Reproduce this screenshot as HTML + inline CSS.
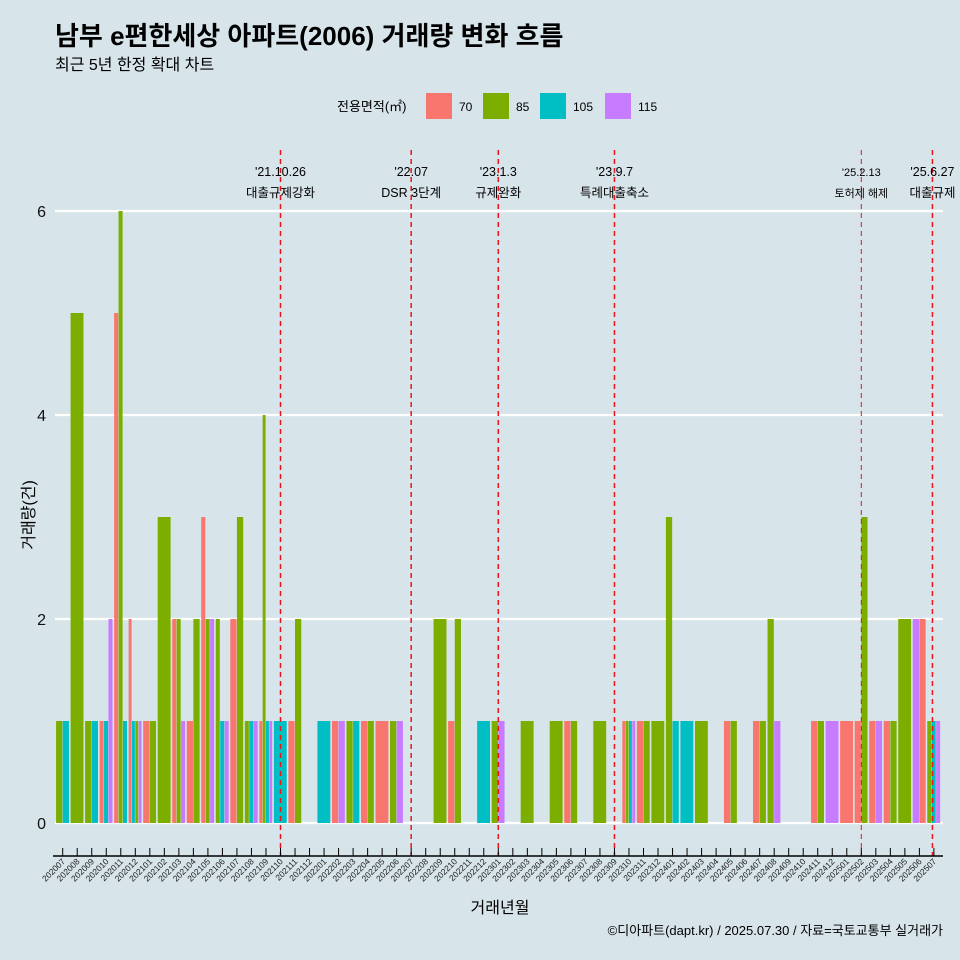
<!DOCTYPE html>
<html><head><meta charset="utf-8">
<style>
body{margin:0;background:#d7e4ea;}
svg{display:block;font-family:"Liberation Sans","Noto Sans CJK KR",sans-serif;}
</style></head>
<body>
<svg id="chart" width="960" height="960" viewBox="0 0 960 960">
<rect x="0" y="0" width="960" height="960" fill="#d7e4ea"/>
<text x="55" y="45" font-size="26" font-weight="bold" fill="#000">남부 e편한세상 아파트(2006) 거래량 변화 흐름</text>
<text x="55" y="70" font-size="16" fill="#000">최근 5년 한정 확대 차트</text>
<g>
<text x="337" y="111" font-size="13" fill="#000">전용면적(㎡)</text>
<g><rect x="426" y="93" width="26" height="26" fill="#f8766d"/><text x="459" y="111" font-size="12">70</text></g>
<g><rect x="483" y="93" width="26" height="26" fill="#7cae00"/><text x="516" y="111" font-size="12">85</text></g>
<g><rect x="540" y="93" width="26" height="26" fill="#00bfc4"/><text x="573" y="111" font-size="12">105</text></g>
<g><rect x="605" y="93" width="26" height="26" fill="#c77cff"/><text x="638" y="111" font-size="12">115</text></g>
</g>
<g id="grid"></g>
<g id="bars"></g>
<g id="events"></g>
<g id="xaxis"></g>
<g id="yaxis"></g>
<text x="500" y="913" font-size="16" text-anchor="middle">거래년월</text>
<text transform="translate(34,515) rotate(-90)" font-size="16" text-anchor="middle">거래량(건)</text>
<text x="943" y="935" font-size="13" text-anchor="end">©디아파트(dapt.kr) / 2025.07.30 / 자료=국토교통부 실거래가</text>
</svg>
<script>
const months = [];
for (let y = 2020, m = 7; y < 2025 || (y === 2025 && m <= 7); ) { months.push(String(y) + String(m).padStart(2, '0')); m++; if (m > 12) { m = 1; y++; } }
const yTicks = [0, 2, 4, 6];
const areaColors = {"70":"#f8766d","85":"#7cae00","105":"#00bfc4","115":"#c77cff"};
// [month, area, count]
const deals = [
["202007","85",1],["202007","105",1],
["202008","85",5],
["202009","85",1],["202009","105",1],
["202010","70",1],["202010","105",1],["202010","115",2],
["202011","70",5],["202011","85",6],["202011","105",1],
["202012","70",2],["202012","105",1],["202012","85",1],["202012","115",1],
["202101","70",1],["202101","85",1],
["202102","85",3],
["202103","70",2],["202103","85",2],["202103","115",1],
["202104","70",1],["202104","85",2],
["202105","70",3],["202105","85",2],["202105","115",2],
["202106","85",2],["202106","105",1],["202106","115",1],
["202107","70",2],["202107","85",3],
["202108","85",1],["202108","105",1],["202108","115",1],
["202109","70",1],["202109","85",4],["202109","105",1],["202109","115",1],
["202110","105",1],
["202111","70",1],["202111","85",2],
["202201","105",1],
["202202","70",1],["202202","115",1],
["202203","85",1],["202203","105",1],
["202204","70",1],["202204","85",1],
["202205","70",1],
["202206","85",1],["202206","115",1],
["202209","85",2],
["202210","70",1],["202210","85",2],
["202212","105",1],
["202301","85",1],["202301","115",1],
["202303","85",1],
["202305","85",1],
["202306","70",1],["202306","85",1],
["202308","85",1],
["202310","70",1],["202310","85",1],["202310","105",1],["202310","115",1],
["202311","70",1],["202311","85",1],
["202312","85",1],
["202401","85",3],["202401","105",1],
["202402","105",1],
["202403","85",1],
["202405","70",1],["202405","85",1],
["202407","70",1],["202407","85",1],
["202408","85",2],["202408","115",1],
["202411","70",1],["202411","85",1],
["202412","115",1],
["202501","70",1],
["202502","70",1],["202502","85",3],
["202503","70",1],["202503","115",1],
["202504","70",1],["202504","85",1],
["202505","85",2],
["202506","115",2],["202506","70",2],
["202507","85",1],["202507","105",1],["202507","115",1]
];
const eventMonths = ["202110","202207","202301","202309","202502","202506"];
const eventOffsets = [0, 0, 0, 0, 0, 0.9];
const eventDates = ["'21.10.26","'22.07","'23.1.3","'23.9.7","'25.2.13","'25.6.27"];
const eventNames = ["대출규제강화","DSR 3단계","규제완화","특례대출축소","토허제 해제","대출규제"];

const NS = "http://www.w3.org/2000/svg";
const x0 = 62.7, step = 14.52, y0 = 823, yUnit = 102;
const xPos = i => x0 + i * step;
const yPos = v => y0 - v * yUnit;
function mk(tag, attrs, parent) { const e = document.createElementNS(NS, tag); for (const k in attrs) e.setAttribute(k, attrs[k]); parent.appendChild(e); return e; }

const grid = document.getElementById('grid');
const yaxis = document.getElementById('yaxis');
yTicks.forEach(t => {
  const l = mk('line', {x1: 55, x2: 943, y1: yPos(t), y2: yPos(t), stroke: '#ffffff', 'stroke-width': 2.2}, grid);
  
  
  const tx = mk('text', {x: 46, y: yPos(t) + 6, 'font-size': 16, 'text-anchor': 'end', fill: '#111'}, yaxis);
  tx.textContent = t;
  
  
});

const bars = document.getElementById('bars');
const groupW = 13.3;
months.forEach((m, i) => {
  const segs = deals.filter(d => d[0] === m);
  const n = segs.length;
  segs.forEach((d, j) => {
    const w = groupW / n;
    const x = xPos(i) - groupW / 2 + j * w;
    const r = mk('rect', {x: x, y: yPos(d[2]), width: Math.max(w - 0.4, 0.5), height: yPos(0) - yPos(d[2]), fill: areaColors[d[1]]}, bars);
    
    
  });
});

const xaxis = document.getElementById('xaxis');
const ax = mk('line', {x1: 53, x2: 943, y1: 856, y2: 856, stroke: '#000', 'stroke-width': 1.5}, xaxis);


months.forEach((m, i) => {
  const t = mk('line', {x1: xPos(i), x2: xPos(i), y1: 848, y2: 856, stroke: '#000', 'stroke-width': 1}, xaxis);
  
  
  const lb = mk('text', {transform: 'translate(' + (xPos(i) + 3) + ',862) rotate(-45)', 'font-size': 8.5, 'text-anchor': 'end', fill: '#222'}, xaxis);
  lb.textContent = m;
  
  
});

const ev = document.getElementById('events');
eventMonths.forEach((m, k) => {
  const x = xPos(months.indexOf(m) + eventOffsets[k]);
  const l = mk('line', {x1: x, x2: x, y1: 150, y2: 856, stroke: '#e8151b', 'stroke-width': k === 4 ? 1 : 1.5, 'stroke-dasharray': '5,4'}, ev);
  
  
  const fs = k === 4 ? 11 : 12.5;
  const a = mk('text', {x: x, y: 176, 'font-size': fs, 'text-anchor': 'middle'}, ev);
  a.textContent = eventDates[k];
  
  
  const b = mk('text', {x: x, y: 197, 'font-size': fs, 'text-anchor': 'middle'}, ev);
  b.textContent = eventNames[k];
  
  
});
</script>
</body></html>
